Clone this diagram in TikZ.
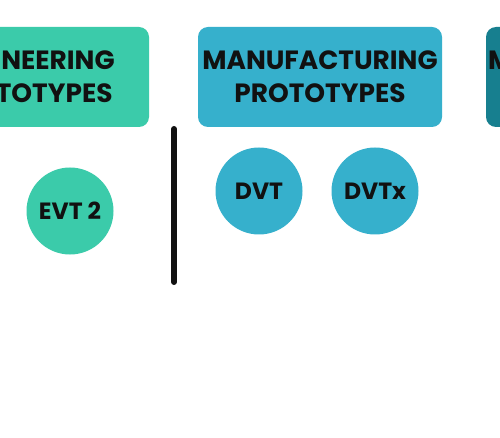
\documentclass[tikz,border=0pt]{standalone}
\usepackage{fontspec}
\setmainfont{Poppins}
\definecolor{evtgreen}{HTML}{3BCBAA}
\definecolor{mfgblue}{HTML}{36B0CC}
\definecolor{darkteal}{HTML}{177F8F}
\definecolor{inkblack}{HTML}{111111}
\tikzset{
  phasebox/.style={rounded corners=10pt, minimum width=244pt, minimum height=100pt, inner sep=0pt, align=center, font=\fontsize{26.4}{33}\selectfont\bfseries, text=inkblack},
  stagecircle/.style={circle, minimum size=87pt, inner sep=0pt, font=\fontsize{23.5}{26}\selectfont\bfseries, text=inkblack},
}
\begin{document}
\begin{tikzpicture}[x=1pt,y=-1pt]
\useasboundingbox (0,0) rectangle (500,438);
\clip (0,0) rectangle (500,438);
\fill[white] (0,0) rectangle (500,438);
\node[phasebox, fill=evtgreen] (eng) at (27,77) {ENGINEERING\\PROTOTYPES};
\node[phasebox, fill=mfgblue] (mfg) at (320,77) {MANUFACTURING\\PROTOTYPES};
\node[phasebox, fill=darkteal] (mass) at (608,77) {};
\node[anchor=west, inner sep=0pt, font=\fontsize{26.4}{33}\selectfont\bfseries, text=inkblack] (m) at (488,60) {M};
\node[stagecircle, fill=evtgreen] (evt) at (70,211) {EVT 2};
\node[stagecircle, fill=mfgblue] (dvt) at (259,191) {DVT};
\node[stagecircle, fill=mfgblue] (dvtx) at (375,191) {DVTx};
\coordinate (divtop) at (174,129);
\coordinate (divbot) at (174,282);
\draw[inkblack, line width=6pt, line cap=round] (divtop) -- (divbot);
\end{tikzpicture}
\end{document}
